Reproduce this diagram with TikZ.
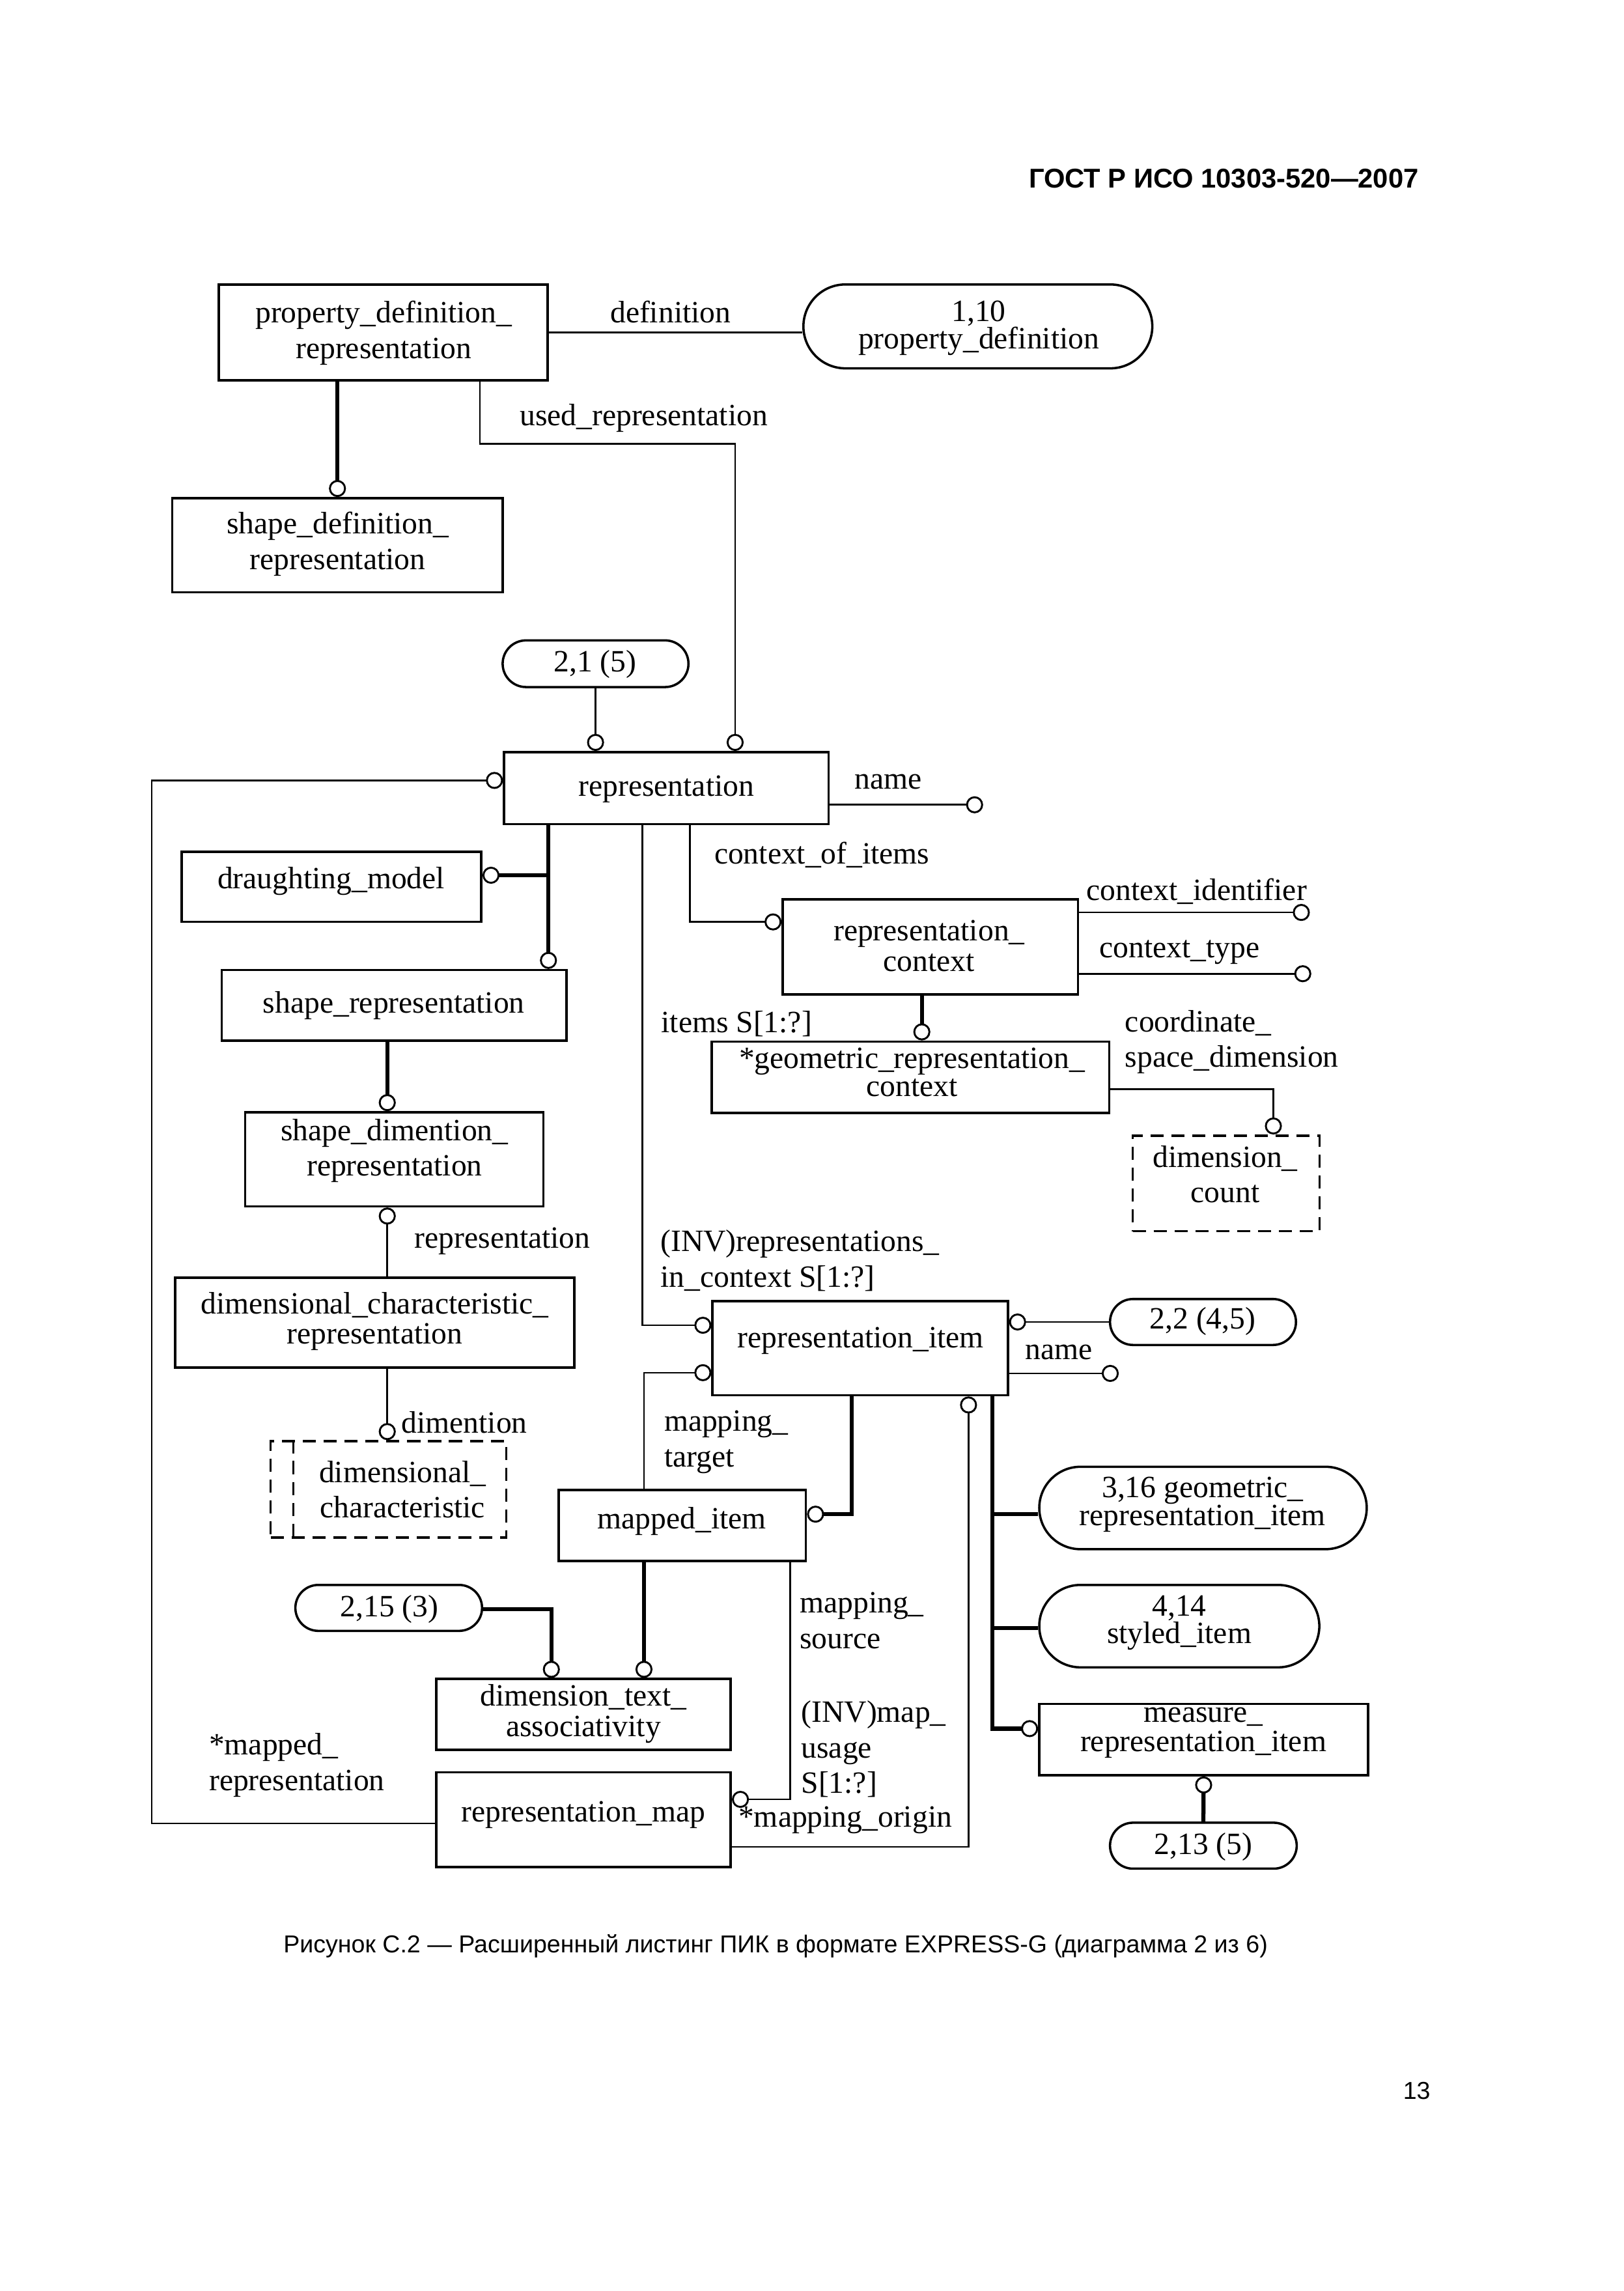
\documentclass[tikz,border=0pt]{standalone}
\usepackage{fontspec}
\setmainfont{Liberation Serif}
\newfontfamily\capfont{Liberation Sans}
\usetikzlibrary{shapes.misc,arrows.meta}
\begin{document}
\begin{tikzpicture}[x=0.018861cm,y=-0.018861cm,
  ent/.style={draw, line width=0.85pt, rectangle, inner sep=0pt},
  sz/.style 2 args={minimum width=#1*0.018861cm, minimum height=#2*0.018861cm},
  pill/.style={draw, line width=0.85pt, rounded rectangle, inner sep=0pt},
  dbox/.style={draw, line width=0.85pt, rectangle, inner sep=0pt, dash pattern=on 1.7mm off 1mm},
  tx/.style={inner sep=0pt, align=center, font=\fontsize{11.4pt}{#1pt}\selectfont},
  tx/.default=13.4,
  lb/.style={inner sep=0pt, align=left, anchor=west, font=\fontsize{11.4pt}{#1pt}\selectfont},
  lb/.default=13.1,
  rel/.style={line width=0.65pt},
  sub/.style={line width=1.5pt},
  oc/.style={-{Circle[open, length=2.2mm, width=2.2mm, line width=0.7pt]}},
]
\fill[white] (0,0) rectangle (1113.39,1570.54);
\useasboundingbox (0,0) rectangle (1113.39,1570.54);

% ---------- page texts ----------
\node[inner sep=0pt, anchor=base east, font=\capfont\bfseries\fontsize{10pt}{12pt}\selectfont] (hdr) at (973,128.6) {ГОСТ Р ИСО 10303-520—2007};
\node[inner sep=0pt, font=\capfont\fontsize{9pt}{11pt}\selectfont] (cap) at (531.7,1334) {Рисунок С.2 — Расширенный листинг ПИК в формате EXPRESS-G (диаграмма 2 из 6)};
\node[inner sep=0pt, anchor=base east, font=\capfont\fontsize{9pt}{11pt}\selectfont] (pg) at (981,1439) {13};

% ---------- boxes ----------
\node[ent, sz={225.4}{65.8}] (pdr) at (262.7,227.9) {};
\node[pill, sz={239.2}{57.5}] (p110) at (670.4,223.75) {};
\node[ent, sz={226.7}{64.5}] (sdr) at (231.35,373.75) {};
\node[pill, sz={127.4}{32}] (p21) at (408.3,455) {};
\node[ent, sz={222.4}{49.5}] (rep) at (456.8,540.3) {};
\node[ent, sz={205.5}{48}] (dm) at (227.25,608) {};
\node[ent, sz={236.5}{48.5}] (shr) at (270.25,689.25) {};
\node[ent, sz={204.6}{64.5}] (sdir) at (270.3,794.75) {};
\node[ent, sz={273.8}{61.5}] (dcr) at (256.9,906.75) {};
\node[dbox, sz={161.5}{66}] (dc) at (266.25,1021) {};
\node[ent, sz={202.4}{65.2}] (rc) at (637.8,649.1) {};
\node[ent, sz={272.5}{49}] (grc) at (624.25,738.5) {};
\node[dbox, sz={128.1}{65.5}] (dcount) at (840.65,811.25) {};
\node[ent, sz={202.5}{64.5}] (ri) at (589.75,924.25) {};
\node[pill, sz={127.5}{31.5}] (p22) at (824.75,906.25) {};
\node[pill, sz={224.5}{56.5}] (p316) at (824.75,1033.75) {};
\node[pill, sz={192}{56.5}] (p414) at (808.5,1114.75) {};
\node[ent, sz={225.5}{49}] (meas) at (825.25,1192.5) {};
\node[pill, sz={128}{31.5}] (p213) at (825,1265.25) {};
\node[ent, sz={169.5}{48.5}] (mi) at (467.75,1045.75) {};
\node[ent, sz={202}{48.5}] (dta) at (400,1175.25) {};
\node[ent, sz={202}{65}] (rm) at (400,1247.5) {};
\node[pill, sz={128}{31.5}] (p215) at (266.5,1102.25) {};

% inner line of the select box
\draw[line width=0.85pt, dash pattern=on 1.7mm off 1mm] ([xshift=0.3112cm]dc.north west) -- ([xshift=0.3112cm]dc.south west);

% ---------- box texts ----------
\node[tx=13.1] (pdrt) at (263,228.2) {property\_definition\_\\representation};
\node[tx=10.1] (p110t) at (671,224.8) {1,10\\property\_definition};
\node[tx=13.3] (sdrt) at (231.5,373) {shape\_definition\_\\representation};
\node[tx] (p21t) at (408,455.5) {2,1 (5)};
\node[tx] (rept) at (456.8,541) {representation};
\node[tx] (dmt) at (227,604) {draughting\_model};
\node[tx] (shrt) at (270,689.5) {shape\_representation};
\node[tx=12.9] (sdirt) at (270.5,789) {shape\_dimention\_\\representation};
\node[tx=11.0] (dcrt) at (256.9,906) {dimensional\_characteristic\_\\representation};
\node[tx=12.9] (dct) at (276,1021) {dimensional\_\\characteristic};
\node[tx=11.3] (rct) at (637,648.5) {representation\_\\context};
\node[tx=10.3] (grct) at (625.3,735) {*geometric\_representation\_\\context};
\node[tx=12.9] (dcountt) at (840,805) {dimension\_\\count};
\node[tx] (rit) at (590,919) {representation\_item};
\node[tx] (p22t) at (824.5,906) {2,2 (4,5)};
\node[tx=10.2] (p316t) at (824.5,1031.5) {3,16 geometric\_\\representation\_item};
\node[tx=10.2] (p414t) at (808.5,1112.5) {4,14\\styled\_item};
\node[tx=10.8] (meast) at (825,1188) {measure\_\\representation\_item};
\node[tx] (p213t) at (825,1266) {2,13 (5)};
\node[tx] (mit) at (467.5,1043) {mapped\_item};
\node[tx=11.3] (dtat) at (400,1174.8) {dimension\_text\_\\associativity};
\node[tx] (rmt) at (400,1244) {representation\_map};
\node[tx] (p215t) at (267,1103) {2,15 (3)};

% ---------- connector labels ----------
\node[tx] (l1) at (459.7,213.8) {definition};
\node[tx] (l2) at (441.3,286.6) {used\_representation};
\node[tx] (l3) at (609,536) {name};
\node[tx] (l4) at (563.5,586) {context\_of\_items};
\node[tx] (l5) at (820.4,611) {context\_identifier};
\node[tx] (l6) at (808.6,653) {context\_type};
\node[tx] (l7) at (505,701.7) {items S[1:?]};
\node[lb] (l8) at (771,714.3) {coordinate\_\\space\_dimension};
\node[tx] (l9) at (344.5,851) {representation};
\node[lb] (l10) at (452.5,864) {(INV)representations\_\\in\_context S[1:?]};
\node[tx] (l11) at (318.4,975) {dimention};
\node[tx] (l12) at (726,927) {name};
\node[lb] (l13) at (455,988.5) {mapping\_\\target};
\node[lb] (l14) at (548,1111) {mapping\_\\source};
\node[lb] (l15) at (549,1199) {(INV)map\_\\usage\\S[1:?]};
\node[tx] (l16) at (579.5,1247.5) {*mapping\_origin};
\node[lb] (l17) at (143,1210) {*mapped\_\\representation};

% ---------- connectors ----------
\draw[rel] (pdr.east) -- (pdr.east -| p110.west);
\draw[sub,oc] (sdr.north |- pdr.south) -- (sdr.north);
\coordinate (ur1) at (329,304.4);
\coordinate (ur2) at (504,304.4);
\draw[rel,oc] (pdr.south -| ur1) -- (ur1) -- (ur2) -- (rep.north -| ur2);
\draw[rel,oc] (p21.south) -- (rep.north -| p21.south);
\coordinate (rn) at (674,551.7);
\draw[rel,oc] (rep.east |- rn) -- (rn);
\coordinate (lp1) at (104,1250);
\coordinate (lp2) at (104,535);
\draw[rel,oc] (rm.west |- lp1) -- (lp1) -- (lp2) -- (rep.west |- lp2);
\coordinate (tr) at (376,600);
\draw[sub,oc] (rep.south -| tr) -- (shr.north -| tr);
\draw[sub,oc] (tr) -- (dm.east |- tr);
\coordinate (v265) at (265.5,850);
\draw[sub,oc] (shr.south -| v265) -- (sdir.north -| v265);
\draw[rel,oc] (dcr.north -| v265) -- (sdir.south -| v265);
\draw[rel,oc] (dcr.south -| v265) -- (dc.north -| v265);
\coordinate (coi) at (473,632);
\draw[rel,oc] (rep.south -| coi) -- (coi) -- (rc.west |- coi);
\coordinate (inv) at (440.5,908.5);
\draw[rel,oc] (rep.south -| inv) -- (inv) -- (ri.west |- inv);
\coordinate (cid) at (898,625.5);
\draw[rel,oc] (rc.east |- cid) -- (cid);
\coordinate (cty) at (899,667.5);
\draw[rel,oc] (rc.east |- cty) -- (cty);
\coordinate (rg) at (632,700);
\draw[sub,oc] (rc.south -| rg) -- (grc.north -| rg);
\coordinate (csd) at (873,746.6);
\draw[rel,oc] (grc.east |- csd) -- (csd) -- (dcount.north -| csd);
\draw[rel,oc] (p22.west) -- (ri.east |- p22.west);
\coordinate (rin) at (767,941.5);
\draw[rel,oc] (ri.east |- rin) -- (rin);
\coordinate (mt) at (441.5,941);
\draw[rel,oc] (mi.north -| mt) -- (mt) -- (ri.west |- mt);
\coordinate (rmi) at (584,1038);
\draw[sub,oc] (ri.south -| rmi) -- (rmi) -- (mi.east |- rmi);
\coordinate (mo) at (664,1266);
\draw[rel,oc] (rm.east |- mo) -- (mo) -- (ri.south -| mo);
\coordinate (st1) at (680.5,1038);
\coordinate (st2) at (680.5,1116);
\coordinate (st3) at (680.5,1185);
\draw[sub,oc] (ri.south -| st3) -- (st3) -- (meas.west |- st3);
\draw[sub] (st1) -- (p316.west |- st1);
\draw[sub] (st2) -- (p414.west |- st2);
\draw[sub,oc] (mi.south -| mt) -- (dta.north -| mt);
\coordinate (ms) at (541.6,1233.5);
\draw[rel,oc] (mi.south -| ms) -- (ms) -- (rm.east |- ms);
\coordinate (k378) at (378,1103);
\draw[sub,oc] (p215.east |- k378) -- (k378) -- (dta.north -| k378);
\draw[sub,oc] (p213.north) -- (meas.south);
\end{tikzpicture}
\end{document}
